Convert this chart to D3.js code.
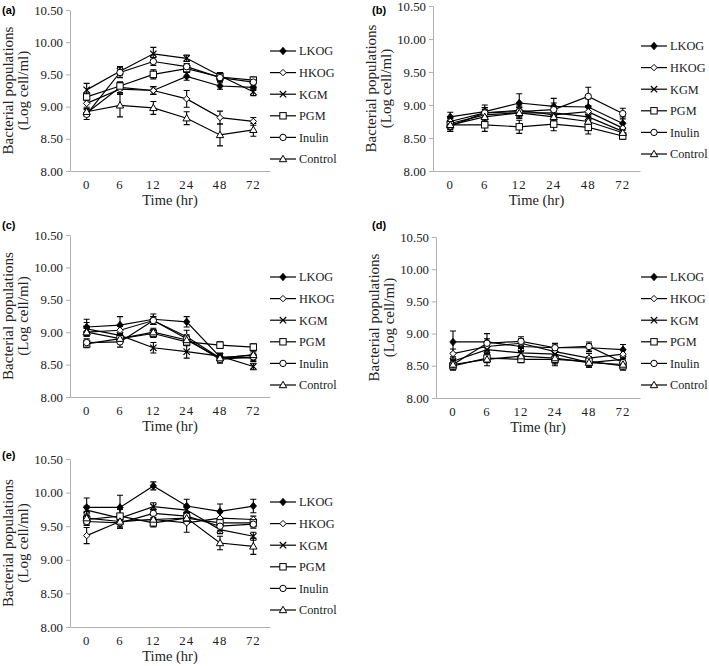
<!DOCTYPE html>
<html><head><meta charset="utf-8">
<script src="https://cdnjs.cloudflare.com/ajax/libs/d3/7.8.5/d3.min.js"></script>
<style>body{margin:0;background:#fff}svg{display:block}</style>
</head><body>
<svg id="c" width="709" height="666"></svg>
<script>
const times = ["0","6","12","24","48","72"];
const seriesNames = ["LKOG","HKOG","KGM","PGM","Inulin","Control"];
const yTicks = [8.00,8.50,9.00,9.50,10.00,10.50];
const panelLabels = ["(a)","(b)","(c)","(d)","(e)"];

// panel (a)
const aLKOG    = [8.90, 9.30, 9.25, 9.47, 9.32, 9.30];
const aHKOG    = [9.05, 9.27, 9.25, 9.12, 8.83, 8.77];
const aKGM     = [9.26, 9.55, 9.82, 9.75, 9.48, 9.23];
const aPGM     = [9.15, 9.32, 9.50, 9.59, 9.46, 9.41];
const aInulin  = [8.88, 9.53, 9.70, 9.62, 9.45, 9.38];
const aControl = [8.92, 9.02, 8.98, 8.82, 8.56, 8.64];
const aErr = [[0.05,0.08,0.06,0.06,0.05,0.05],[0.06,0.08,0.06,0.13,0.10,0.06],[0.10,0.07,0.10,0.05,0.05,0.06],
              [0.06,0.06,0.07,0.06,0.06,0.05],[0.08,0.08,0.06,0.05,0.06,0.06],[0.05,0.18,0.10,0.10,0.17,0.10]];
// panel (b)
const bLKOG    = [8.82, 8.90, 9.03, 8.98, 8.97, 8.72];
const bHKOG    = [8.75, 8.88, 8.92, 8.85, 8.90, 8.65];
const bKGM     = [8.72, 8.85, 8.88, 8.88, 8.82, 8.60];
const bPGM     = [8.70, 8.70, 8.67, 8.71, 8.66, 8.53];
const bInulin  = [8.68, 8.88, 8.90, 8.93, 9.13, 8.87];
const bControl = [8.70, 8.82, 8.88, 8.82, 8.75, 8.58];
const bErr = [[0.07,0.10,0.14,0.12,0.12,0.10],[0.07,0.08,0.08,0.08,0.08,0.08],[0.07,0.08,0.08,0.08,0.08,0.06],
              [0.10,0.10,0.10,0.10,0.10,0.05],[0.08,0.08,0.08,0.10,0.14,0.08],[0.07,0.08,0.08,0.08,0.08,0.06]];
// panel (c)
const cLKOG    = [9.08, 9.11, 9.20, 9.16, 8.62, 8.60];
const cHKOG    = [9.00, 9.03, 9.18, 8.93, 8.60, 8.65];
const cKGM     = [9.05, 8.95, 8.76, 8.70, 8.63, 8.47];
const cPGM     = [8.82, 8.90, 8.98, 8.85, 8.80, 8.77];
const cInulin  = [8.84, 8.85, 9.18, 8.90, 8.58, 8.62];
const cControl = [9.00, 8.90, 9.00, 8.88, 8.60, 8.65];
const cErr = [[0.12,0.13,0.08,0.08,0.05,0.05],[0.06,0.06,0.06,0.10,0.06,0.06],[0.10,0.08,0.08,0.10,0.05,0.05],
              [0.06,0.06,0.06,0.06,0.05,0.05],[0.06,0.08,0.06,0.06,0.06,0.06],[0.06,0.06,0.06,0.06,0.06,0.06]];
// panel (d)
const dLKOG    = [8.87, 8.87, 8.80, 8.78, 8.78, 8.75];
const dHKOG    = [8.69, 8.80, 8.85, 8.72, 8.62, 8.68];
const dKGM     = [8.57, 8.75, 8.70, 8.68, 8.55, 8.60];
const dPGM     = [8.50, 8.62, 8.60, 8.60, 8.57, 8.50];
const dInulin  = [8.52, 8.85, 8.88, 8.78, 8.80, 8.55];
const dControl = [8.52, 8.60, 8.65, 8.62, 8.55, 8.52];
const dErr = [[0.17,0.13,0.07,0.06,0.06,0.08],[0.07,0.07,0.07,0.07,0.07,0.07],[0.07,0.07,0.07,0.07,0.07,0.07],
              [0.07,0.07,0.05,0.07,0.07,0.07],[0.07,0.07,0.07,0.07,0.07,0.07],[0.07,0.10,0.07,0.12,0.07,0.07]];
// panel (e)
const eLKOG    = [9.78, 9.78, 10.10, 9.80, 9.72, 9.80];
const eHKOG    = [9.36, 9.57, 9.60, 9.55, 9.62, 9.60];
const eKGM     = [9.74, 9.62, 9.79, 9.74, 9.45, 9.35];
const ePGM     = [9.60, 9.65, 9.55, 9.62, 9.55, 9.55];
const eInulin  = [9.57, 9.55, 9.69, 9.65, 9.50, 9.53];
const eControl = [9.62, 9.57, 9.60, 9.62, 9.25, 9.20];
const eErr = [[0.14,0.18,0.06,0.10,0.11,0.10],[0.12,0.10,0.08,0.14,0.08,0.05],[0.06,0.06,0.06,0.06,0.06,0.06],
              [0.06,0.10,0.06,0.06,0.06,0.06],[0.06,0.06,0.06,0.06,0.06,0.06],[0.10,0.10,0.06,0.08,0.10,0.12]];

const panels = [
  {data:[aLKOG,aHKOG,aKGM,aPGM,aInulin,aControl], err:aErr, x0:70, x1:270, yT:10, yB:171, lx:270, ly:51, labX:2, labY:14},
  {data:[bLKOG,bHKOG,bKGM,bPGM,bInulin,bControl], err:bErr, x0:433, x1:640, yT:6, yB:171, lx:641, ly:46, labX:372, labY:14},
  {data:[cLKOG,cHKOG,cKGM,cPGM,cInulin,cControl], err:cErr, x0:70, x1:270, yT:235, yB:397, lx:270, ly:277, labX:2, labY:229},
  {data:[dLKOG,dHKOG,dKGM,dPGM,dInulin,dControl], err:dErr, x0:436, x1:640, yT:237, yB:398, lx:641, ly:277, labX:372, labY:229},
  {data:[eLKOG,eHKOG,eKGM,ePGM,eInulin,eControl], err:eErr, x0:70, x1:270, yT:459, yB:627, lx:270, ly:502, labX:2, labY:459}
];

const svg = d3.select("#c");
const axisCol = "#b0b0b0";
const SERIF = '"Liberation Serif", "Times New Roman", serif';
const SANS = '"Liberation Sans", Arial, sans-serif';

function marker(g, i, cx, cy) {
  const s = 3.2;
  if (i === 0) {
    g.append("path").attr("d", `M${cx},${cy-s-0.6}L${cx+s},${cy}L${cx},${cy+s+0.6}L${cx-s},${cy}Z`).attr("fill","#000").attr("stroke","#000").attr("stroke-width",0.8);
  } else if (i === 1) {
    g.append("path").attr("d", `M${cx},${cy-s}L${cx+s},${cy}L${cx},${cy+s}L${cx-s},${cy}Z`).attr("fill","#fff").attr("stroke","#000").attr("stroke-width",1);
  } else if (i === 2) {
    g.append("path").attr("d", `M${cx-s},${cy-s}L${cx+s},${cy+s}M${cx-s},${cy+s}L${cx+s},${cy-s}`).attr("stroke","#000").attr("stroke-width",1.2);
  } else if (i === 3) {
    g.append("rect").attr("x",cx-s).attr("y",cy-s).attr("width",2*s).attr("height",2*s).attr("fill","#fff").attr("stroke","#000").attr("stroke-width",1);
  } else if (i === 4) {
    g.append("circle").attr("cx",cx).attr("cy",cy).attr("r",s).attr("fill","#fff").attr("stroke","#000").attr("stroke-width",1);
  } else {
    g.append("path").attr("d", `M${cx},${cy-s-0.5}L${cx+s+0.5},${cy+s-0.5}L${cx-s-0.5},${cy+s-0.5}Z`).attr("fill","#fff").attr("stroke","#000").attr("stroke-width",1);
  }
}

panels.forEach((p, pi) => {
  const g = svg.append("g");
  const x = d3.scaleBand().domain(times).range([p.x0, p.x1]);
  const cx = t => x(t) + x.bandwidth()/2;
  const y = d3.scaleLinear().domain([8, 10.5]).range([p.yB, p.yT]);

  // y axis
  const ya = g.append("g").attr("transform", `translate(${p.x0},0)`)
    .call(d3.axisLeft(y).tickValues(yTicks).tickFormat(d3.format(".2f")).tickSize(4).tickSizeOuter(0));
  ya.select(".domain").attr("stroke", axisCol);
  ya.selectAll(".tick line").attr("stroke", axisCol);
  ya.selectAll(".tick text").style("font-family", SERIF).style("font-size","12.8px").attr("fill","#222").attr("x",-7);

  // x axis
  const xa = g.append("g").attr("transform", `translate(0,${p.yB})`)
    .call(d3.axisBottom(x).tickSize(0).tickSizeOuter(0));
  xa.select(".domain").attr("stroke", axisCol);
  xa.selectAll(".tick text").style("font-family", SERIF).style("font-size","12.8px").attr("fill","#222").attr("dy","0.71em").attr("y",9)
    .attr("letter-spacing", 1);

  // axis titles
  const midY = (p.yT + p.yB)/2;
  const tx = p.x0 - 57;
  g.append("text").attr("transform", `translate(${tx},${midY}) rotate(-90)`).attr("text-anchor","middle")
    .style("font-family", SERIF).style("font-size","15px").attr("fill","#222").text("Bacterial populations");
  g.append("text").attr("transform", `translate(${tx+15},${midY}) rotate(-90)`).attr("text-anchor","middle")
    .style("font-family", SERIF).style("font-size","15px").attr("fill","#222").text("(Log cell/ml)");
  g.append("text").attr("x", (p.x0+p.x1)/2).attr("y", p.yB + 34).attr("text-anchor","middle")
    .style("font-family", SERIF).style("font-size","14.5px").attr("fill","#222").text("Time (hr)");

  // panel label
  g.append("text").attr("x", p.labX).attr("y", p.labY).style("font-family", SANS)
    .style("font-weight","bold").style("font-size","11px").attr("fill","#000").text(panelLabels[pi]);

  const line = d3.line().x((d,i) => cx(times[i])).y(d => y(d));
  p.data.forEach((s) => {
    g.append("path").datum(s).attr("d", line).attr("fill","none").attr("stroke","#000").attr("stroke-width",1.2);
  });
  p.data.forEach((s, si) => {
    s.forEach((v, i) => {
      const e = p.err[si][i];
      const X = cx(times[i]);
      g.append("path").attr("d", `M${X},${y(v-e)}V${y(v+e)}M${X-3},${y(v-e)}H${X+3}M${X-3},${y(v+e)}H${X+3}`)
        .attr("stroke","#000").attr("stroke-width",1.1).attr("fill","none");
    });
  });
  p.data.forEach((s, si) => {
    s.forEach((v, i) => marker(g, si, cx(times[i]), y(v)));
  });

  // legend
  seriesNames.forEach((n, si) => {
    const ly = p.ly + si*21.6;
    g.append("line").attr("x1", p.lx).attr("x2", p.lx+26).attr("y1", ly).attr("y2", ly).attr("stroke","#000").attr("stroke-width",1.2);
    marker(g, si, p.lx+13, ly);
    g.append("text").attr("x", p.lx+29).attr("y", ly+4.3).style("font-family", SERIF).style("font-size","12.3px").attr("fill","#222").text(n);
  });
});
</script>
</body></html>
